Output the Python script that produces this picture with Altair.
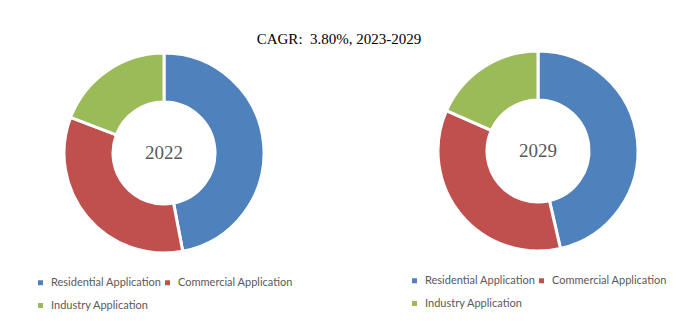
import altair as alt
import pandas as pd

categories = ["Residential Application", "Commercial Application", "Industry Application"]
colors = ["#4F81BD", "#C0504D", "#9BBB59"]
share_2022 = [47.0, 33.8, 19.2]
share_2029 = [46.4, 35.2, 18.4]
years = ["2022", "2029"]
title_text = "CAGR:\u00a0 3.80%, 2023-2029"

LABEL_FONT = "Lato"
SERIF = "Liberation Serif"


def donut(vals, year, cx, cy, lx, ly):
    df = pd.DataFrame({"category": categories, "share": vals,
                       "order": list(range(len(categories)))})
    arc = alt.Chart(df).mark_arc(innerRadius=51, outerRadius=100,
                                 stroke="white", strokeWidth=3).encode(
        theta=alt.Theta("share:Q", stack=True),
        color=alt.Color("category:N",
                        scale=alt.Scale(domain=categories, range=colors),
                        legend=alt.Legend(orient="none", legendX=lx, legendY=ly,
                                          direction="horizontal",
                                          columns=2, title=None,
                                          symbolType="square", symbolSize=25,
                                          symbolStrokeWidth=0,
                                          labelFont=LABEL_FONT, labelFontSize=11,
                                          labelColor="#595959", labelOffset=5,
                                          columnPadding=0, rowPadding=11)),
        order=alt.Order("order:Q"),
        x=alt.value(cx), y=alt.value(cy),
    )
    label = alt.Chart(pd.DataFrame({"year": [year]})).mark_text(
        font=SERIF, fontSize=19, color="#595959", baseline="middle", align="center"
    ).encode(text="year:N", x=alt.value(cx), y=alt.value(cy))
    return arc, label


a1, t1 = donut(share_2022, years[0], 164, 153, 35, 277)
a2, t2 = donut(share_2029, years[1], 538, 151, 409, 275)

title = alt.Chart(pd.DataFrame({"t": [title_text]})).mark_text(
    font=SERIF, fontSize=15, color="#000000", baseline="middle", align="center"
).encode(text="t:N", x=alt.value(339), y=alt.value(39))

chart = alt.layer(a1, a2, t1, t2, title).resolve_scale(
    color="independent", theta="independent"
).properties(
    width=700, height=321, autosize="none", padding=0
).configure_view(stroke=None)

chart.save("out.html", embed_options={"renderer": "svg", "actions": False})
